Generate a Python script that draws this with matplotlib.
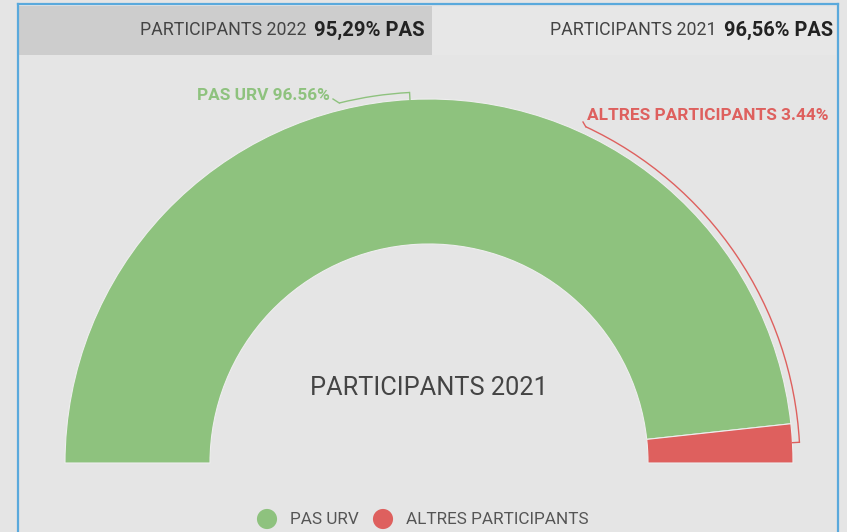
import matplotlib.pyplot as plt
from matplotlib.patches import Rectangle, Arc
import numpy as np

# data
categories = ["PAS URV", "ALTRES PARTICIPANTS"]
shares = [96.56, 3.44]
colors = ["#8ec27e", "#de605e"]
tab_titles = ["PARTICIPANTS 2022", "PARTICIPANTS 2021"]
tab_values = ["95,29% PAS", "96,56% PAS"]
center_title = "PARTICIPANTS 2021"

plt.rcParams['font.family'] = ['Roboto', 'DejaVu Sans']

W, H = 847, 532
fig = plt.figure(figsize=(W / 100, H / 100), dpi=100)
fig.patch.set_facecolor("#e5e5e5")
ax = fig.add_axes([0, 0, 1, 1])
ax.set_facecolor("#e5e5e5")

def py(y):
    # pixel row -> data y (y up)
    return H - y

# frame + tabs
ax.add_patch(Rectangle((19, py(55)), 413, 49, facecolor="#cdcdcd", edgecolor="none"))
ax.add_patch(Rectangle((432, py(55)), 404, 48, facecolor="#e7e7e7", edgecolor="none"))
blue = "#5aa9dc"
ax.plot([18, 18], [py(4), 0], color=blue, lw=1.6)
ax.plot([838, 838], [py(4), 0], color=blue, lw=1.6)
ax.plot([18, 838], [py(4), py(4)], color=blue, lw=1.6)

ax.text(307, py(30), tab_titles[0], ha="right", va="center", fontsize=12.8,
        color="#444444")
ax.text(314, py(30), tab_values[0], ha="left", va="center", fontsize=14.6,
        fontweight="bold", color="#222222")
ax.text(716, py(30), tab_titles[1], ha="right", va="center", fontsize=12.8,
        color="#444444")
ax.text(724, py(30), tab_values[1], ha="left", va="center", fontsize=14.4,
        fontweight="bold", color="#222222")

# half donut
cx, cy = 429, py(463)
r_out, r_in = 364, 219
total = sum(shares)
wedges, _ = ax.pie(shares + [total], colors=colors + ["none"], startangle=180,
                   counterclock=False, radius=r_out, center=(cx, cy),
                   wedgeprops=dict(width=r_out - r_in, edgecolor="#eeeeee", linewidth=0.8))
wedges[-1].set_edgecolor("none")

# brackets / leader lines
r_br = 371
ax.add_patch(Arc((cx, cy), 2 * r_br, 2 * r_br, theta1=93, theta2=104,
                 color=colors[0], lw=1))
a = np.radians(93)
ax.plot([cx + r_out * np.cos(a), cx + r_br * np.cos(a)],
        [cy + r_out * np.sin(a), cy + r_br * np.sin(a)], color=colors[0], lw=1)
a = np.radians(104)
ax.plot([cx + r_br * np.cos(a), 333], [cy + r_br * np.sin(a), py(99)],
        color=colors[0], lw=1)
ax.text(197, py(95), f"{categories[0]} {shares[0]:.2f}%", ha="left", va="center",
        fontsize=12.4, fontweight="bold", color=colors[0])

ax.add_patch(Arc((cx, cy), 2 * r_br, 2 * r_br, theta1=3.2, theta2=65,
                 color=colors[1], lw=1))
a = np.radians(3.2)
ax.plot([cx + r_out * np.cos(a), cx + r_br * np.cos(a)],
        [cy + r_out * np.sin(a), cy + r_br * np.sin(a)], color=colors[1], lw=1)
a = np.radians(65)
ax.plot([cx + r_br * np.cos(a), 583], [cy + r_br * np.sin(a), py(122)],
        color=colors[1], lw=1)
ax.text(587, py(115), f"{categories[1]} {shares[1]:.2f}%", ha="left", va="center",
        fontsize=12.4, fontweight="bold", color=colors[1])

ax.text(cx, py(388), center_title, ha="center", va="center", fontsize=18.3,
        color="#444444")

# legend
leg_y = py(519)
ax.scatter([267, 383], [leg_y, leg_y], s=210, c=colors, edgecolors="none")
ax.text(290, leg_y, categories[0], ha="left", va="center", fontsize=12.3, color="#555555")
ax.text(406, leg_y, categories[1], ha="left", va="center", fontsize=12.3, color="#555555")

ax.set_xlim(0, W)
ax.set_ylim(0, H)
ax.set_aspect("auto")
ax.axis("off")

fig.savefig("out.png", dpi=100, facecolor=fig.get_facecolor())
